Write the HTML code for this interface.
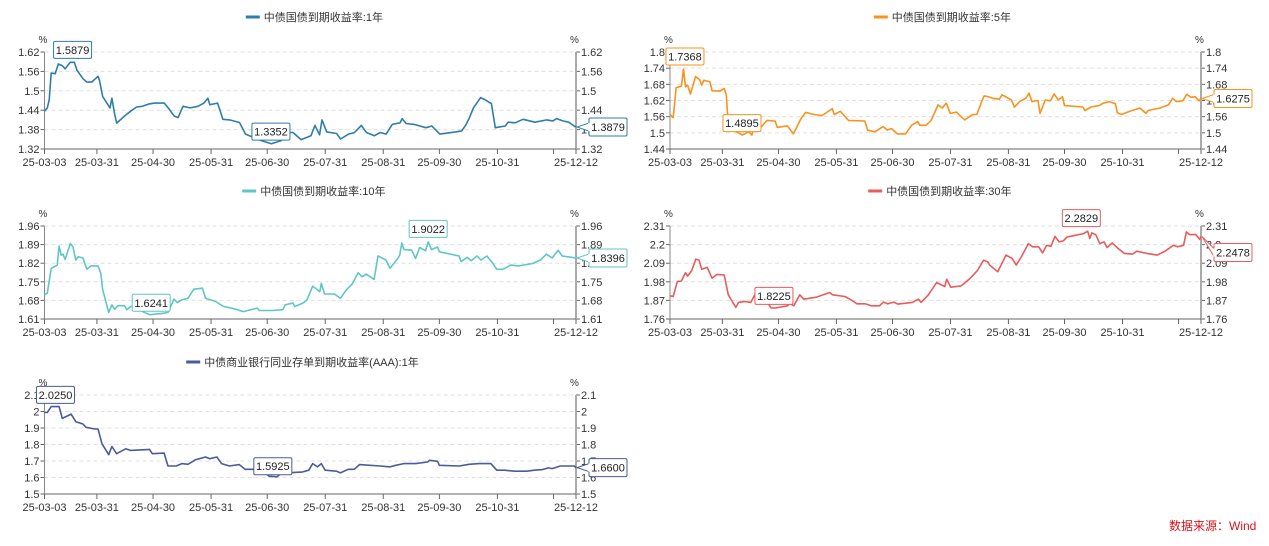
<!DOCTYPE html>
<html><head><meta charset="utf-8">
<style>
html,body{margin:0;padding:0;background:#fff;}
body{width:1269px;height:541px;overflow:hidden;position:relative;font-family:"Liberation Sans","Noto Sans CJK SC",sans-serif;}
svg text{font-family:"Liberation Sans","Noto Sans CJK SC",sans-serif;}
#src{position:absolute;left:1169px;top:517px;font-size:12px;color:#d9121b;}
</style></head>
<body>
<svg id="root" width="1269" height="541"></svg>
<div id="src">数据来源：Wind</div>
<script>
// ---- shared axis data ----
const xTickDays = [0,28,58,89,119,150,181,211,242,272,284];
const xTickLabels = ["25-03-03","25-03-31","25-04-30","25-05-31","25-06-30","25-07-31","25-08-31","25-09-30","25-10-31","","25-12-12"];

// ---- chart 1: 1Y ----
const c1Title = "中债国债到期收益率:1年";
const c1Ticks = [1.32,1.38,1.44,1.5,1.56,1.62];
const c1Days = [0,1.5,2.5,3.6,5.7,7.4,9.5,11,13.8,15.9,17.4,20.6,22.7,25.2,28.6,29.4,31.1,35,36,37.5,38.6,42.8,46,49.2,52.3,55.6,58.7,64,66.1,69.3,71.4,74,77.8,82,85.2,87.3,88.3,92.5,95.3,98.9,104.2,107.4,111.6,115.9,121.2,126.5,128.6,132.8,137.1,142.4,144.5,147,148.3,150.8,156.1,158.2,162.5,165.7,169.3,172,176.3,179.4,182.6,185.8,190,191.1,193.2,197.5,203.8,207,211.2,219.7,222.9,225,227.1,229.2,233,235.6,238.8,240.9,246.2,247.7,251.5,255.7,262.1,268.4,271.6,273.7,276.9,280.1,283,284];
const c1Vals = [1.437,1.447,1.472,1.555,1.553,1.583,1.578,1.568,1.588,1.588,1.563,1.537,1.527,1.527,1.545,1.532,1.482,1.447,1.477,1.427,1.4,1.422,1.437,1.45,1.452,1.459,1.462,1.462,1.447,1.422,1.417,1.452,1.447,1.452,1.462,1.477,1.457,1.462,1.412,1.41,1.402,1.366,1.356,1.346,1.336,1.346,1.371,1.371,1.349,1.361,1.393,1.364,1.41,1.373,1.368,1.351,1.366,1.371,1.393,1.371,1.361,1.371,1.366,1.396,1.401,1.414,1.399,1.396,1.386,1.391,1.366,1.373,1.376,1.393,1.417,1.447,1.479,1.472,1.46,1.386,1.391,1.403,1.401,1.412,1.403,1.41,1.407,1.414,1.407,1.403,1.391,1.3879];
const c1MarkDays = [15,121];
const c1MarkVals = [1.5879,1.3352];

// ---- chart 2: 5Y ----
const c2Title = "中债国债到期收益率:5年";
const c2Ticks = [1.44,1.5,1.56,1.62,1.68,1.74,1.8];
const c2Days = [0,1.7,3.3,6.1,7.2,8.3,9.4,10.9,13.7,15.9,17,18.1,21.4,22.5,26.8,29,30.1,31.2,34.4,38.8,42.1,43.8,45.3,48.6,51.9,56.2,57.4,62.8,66,70,72.6,77,81.3,86.8,87.9,91.1,95.5,104.2,105.7,109.6,114,116.2,118.4,121.6,126,129.2,132.5,133.6,136.9,139.7,143.4,145.6,147.8,149.9,153.2,157.6,161.9,164.1,166.7,168,170.2,172.8,176.1,177.6,182.6,184.2,187,190.3,192,193.6,196.8,197.9,200.7,203.4,205.5,207.7,209.9,211,220.8,221.9,225.2,229.5,231.7,235,238.2,239.3,241.5,245.9,251.3,254.6,255.7,262.2,266.6,268.8,270.9,274.2,276.4,278.6,280.8,283,284];
const c2Vals = [1.568,1.556,1.668,1.673,1.737,1.671,1.677,1.644,1.709,1.697,1.677,1.695,1.689,1.656,1.655,1.665,1.64,1.526,1.508,1.492,1.504,1.492,1.532,1.52,1.546,1.544,1.52,1.526,1.496,1.552,1.576,1.568,1.564,1.59,1.568,1.58,1.546,1.544,1.51,1.504,1.523,1.51,1.516,1.496,1.496,1.528,1.542,1.528,1.528,1.546,1.604,1.592,1.61,1.572,1.577,1.548,1.568,1.568,1.616,1.637,1.634,1.628,1.625,1.641,1.622,1.595,1.616,1.628,1.647,1.616,1.62,1.572,1.622,1.619,1.644,1.622,1.634,1.601,1.596,1.583,1.596,1.601,1.61,1.616,1.608,1.574,1.568,1.58,1.592,1.572,1.583,1.592,1.604,1.628,1.616,1.619,1.643,1.632,1.634,1.619,1.6275];
const c2MarkDays = [8,38.5];
const c2MarkVals = [1.7368,1.4895];

// ---- chart 3: 10Y ----
const c3Title = "中债国债到期收益率:10年";
const c3Ticks = [1.61,1.68,1.75,1.82,1.89,1.96];
const c3Days = [0,1.5,3.6,6.8,7.8,8.9,9.9,11,13.8,15.2,16.7,18,20.5,22.6,24.8,28.6,30.1,31.1,34.3,36,37.5,39.2,42.8,43.9,46,49.1,51.2,54.4,56.5,63.9,66,69.2,70.9,73.4,76.6,79.8,84.4,86.1,91.4,95.7,98.8,103.1,106.2,113.7,114.7,122.1,127.4,128.5,132.7,133.8,138,140.1,143.3,147.1,147.9,149.6,154.9,158.1,161.3,164.4,167.6,169.7,171.9,176.1,178.2,182.4,184.6,188.8,189.8,190.9,192,196.2,198.3,200.5,203.6,205.1,206.8,210,211,221.6,222.6,225.8,228,231.1,233.2,236.4,239.6,241.7,244.9,249.1,253.3,260.8,265,268.2,271.3,274.5,276.6,281.9,284];
const c3Vals = [1.701,1.707,1.8,1.813,1.884,1.85,1.854,1.834,1.894,1.882,1.832,1.844,1.84,1.797,1.81,1.81,1.782,1.72,1.635,1.663,1.647,1.66,1.66,1.645,1.657,1.66,1.642,1.632,1.626,1.632,1.635,1.685,1.672,1.682,1.688,1.722,1.726,1.688,1.676,1.657,1.653,1.645,1.638,1.651,1.642,1.642,1.645,1.663,1.67,1.657,1.67,1.68,1.734,1.713,1.744,1.704,1.704,1.688,1.72,1.742,1.784,1.769,1.779,1.759,1.847,1.832,1.801,1.838,1.85,1.896,1.872,1.869,1.838,1.879,1.867,1.9,1.871,1.881,1.863,1.847,1.826,1.842,1.829,1.847,1.832,1.847,1.819,1.797,1.797,1.813,1.81,1.819,1.832,1.854,1.84,1.869,1.847,1.842,1.8396];
const c3MarkDays = [57,205];
const c3MarkVals = [1.6241,1.9022];

// ---- chart 4: 30Y ----
const c4Title = "中债国债到期收益率:30年";
const c4Ticks = [1.76,1.87,1.98,2.09,2.2,2.31];
const c4Days = [0,1.7,3.9,6.1,8.3,9.4,11.6,13.8,15.5,17,19.9,22.5,25.1,29,31.2,35.2,36.7,40,43.2,45.4,48.7,54.1,56.3,62.9,64,66.2,69.4,71.6,74.9,78.2,85.4,86.9,93.5,96.7,100,104.4,107.6,112,114.2,116.4,119.7,121.9,129.5,132.8,134.3,138.2,142.6,147,148,150.2,155.7,160,164.4,167.7,169.9,171,175.3,179.7,183,185.2,188.4,191.7,193.9,197.2,199.3,201.5,203.7,205.9,208.1,210.3,212.4,216.8,221.2,223.4,224.5,225.6,227.7,229.9,232.1,233.8,236.5,239.7,243,247.4,249.6,255,260.5,264.8,269.2,271.4,274.7,276.2,277.9,281.2,283.4,284];
const c4Vals = [1.897,1.893,1.981,1.985,2.034,2.014,2.046,2.114,2.108,2.054,2.065,2.001,2.024,2.02,1.903,1.829,1.858,1.864,1.858,1.903,1.913,1.825,1.825,1.838,1.854,1.838,1.903,1.877,1.883,1.889,1.917,1.903,1.893,1.874,1.85,1.85,1.838,1.838,1.86,1.85,1.86,1.848,1.858,1.877,1.858,1.903,1.975,1.952,1.995,1.948,1.956,1.995,2.046,2.108,2.099,2.079,2.04,2.138,2.118,2.079,2.138,2.206,2.187,2.187,2.151,2.196,2.19,2.249,2.216,2.222,2.245,2.255,2.265,2.279,2.236,2.269,2.259,2.206,2.216,2.183,2.21,2.177,2.148,2.144,2.161,2.148,2.138,2.161,2.196,2.187,2.196,2.275,2.259,2.259,2.23,2.2478];
const c4MarkDays = [55.6,220];
const c4MarkVals = [1.8225,2.2829];

// ---- chart 5: NCD AAA 1Y ----
const c5Title = "中债商业银行同业存单到期收益率(AAA):1年";
const c5Ticks = [1.5,1.6,1.7,1.8,1.9,2,2.1];
const c5Days = [0,1.5,3.6,7.8,9.5,14.2,16.7,20.5,22.2,26.9,28.6,30.7,34.3,36,38.5,43.4,46,56.1,57.6,63.9,66,70.3,73.4,76.6,80.8,86.1,88.3,92.1,94.6,98.8,104.1,107.2,111.5,113.6,116.8,120,124.2,127.4,132.7,138,141.2,143.3,145.8,147.9,150,156,158.1,162.3,165.5,168.3,179.3,184.6,187.7,192,198.3,204.7,205.7,210,211,221.6,226.9,232.2,238.5,241.7,245.9,251.2,257.6,261.8,266,269.2,271.3,275.6,283,284];
const c5Vals = [1.994,1.994,2.03,2.03,1.958,1.984,1.938,1.924,1.904,1.894,1.894,1.804,1.738,1.788,1.744,1.774,1.764,1.77,1.744,1.748,1.67,1.67,1.684,1.68,1.708,1.724,1.714,1.724,1.684,1.67,1.678,1.65,1.65,1.664,1.638,1.608,1.604,1.634,1.63,1.634,1.644,1.684,1.664,1.684,1.644,1.638,1.628,1.65,1.65,1.678,1.67,1.664,1.674,1.684,1.684,1.694,1.704,1.698,1.674,1.67,1.68,1.684,1.684,1.644,1.644,1.638,1.638,1.644,1.648,1.658,1.654,1.67,1.67,1.66];
const c5MarkDays = [4,122];
const c5MarkVals = [2.025,1.5925];

const NS = "http://www.w3.org/2000/svg";
const root = document.getElementById("root");
function mk(tag, attrs, parent){
  const e = document.createElementNS(NS, tag);
  for (const k in attrs) e.setAttribute(k, attrs[k]);
  (parent||root).appendChild(e);
  return e;
}
function fmt(v){ return String(+v.toFixed(2)); }

function drawChart(cfg, title, ticks, days, vals, markDays, markVals){
  const g = mk("g", {});
  
  
  const lo = ticks[0], hi = ticks[ticks.length-1];
  const X = d => cfg.x0 + (d/284)*(cfg.x1-cfg.x0);
  const Y = v => cfg.yb - (v-lo)/(hi-lo)*(cfg.yb-cfg.yt);
  // legend
  const lg = mk("g", {}, g);
  
  
  const tw = title.length*11.2;
  const lx = cfg.lc - (tw+18)/2;
  mk("line",{x1:lx,y1:cfg.ly,x2:lx+14,y2:cfg.ly,stroke:cfg.color,"stroke-width":3},lg);
  const lt = mk("text",{x:lx+18,y:cfg.ly+4,"font-size":11,fill:"#333"},lg);
  lt.textContent = title;
  // grid + y ticks
  ticks.forEach((t,i)=>{
    const y = Y(t);
    if(i>0){
      const gl = mk("line",{x1:cfg.x0,y1:y,x2:cfg.x1,y2:y,stroke:"#e0e0e0","stroke-dasharray":"4,3"},g);
      
      
    }
    mk("line",{x1:cfg.x0-4,y1:y,x2:cfg.x0,y2:y,stroke:"#666"},g);
    mk("line",{x1:cfg.x1,y1:y,x2:cfg.x1+4,y2:y,stroke:"#666"},g);
    const tl = mk("text",{x:cfg.x0-5,y:y+4,"font-size":11,fill:"#333","text-anchor":"end"},g);
    tl.textContent = fmt(t);
    
    
    const tr = mk("text",{x:cfg.x1+5,y:y+4,"font-size":11,fill:"#333"},g);
    tr.textContent = fmt(t);
    
    
  });
  const pl = mk("text",{x:cfg.x0-6,y:cfg.yt-9,"font-size":10,fill:"#333"},g); pl.textContent="%";
  
  
  const pr = mk("text",{x:cfg.x1-6,y:cfg.yt-9,"font-size":10,fill:"#333"},g); pr.textContent="%";
  
  
  // axes
  const al = mk("line",{x1:cfg.x0,y1:cfg.yt,x2:cfg.x0,y2:cfg.yb,stroke:"#888"},g);
  
  
  const ar = mk("line",{x1:cfg.x1,y1:cfg.yt,x2:cfg.x1,y2:cfg.yb,stroke:"#aaa","stroke-width":2},g);
  
  
  const ax = mk("line",{x1:cfg.x0,y1:cfg.yb,x2:cfg.x1,y2:cfg.yb,stroke:"#666"},g);
  
  
  xTickDays.forEach((d,i)=>{
    const x = X(d);
    mk("line",{x1:x,y1:cfg.yb,x2:x,y2:cfg.yb+5,stroke:"#666"},g);
    if(xTickLabels[i]){
      const t = mk("text",{x:x,y:cfg.yb+17,"font-size":11,fill:"#333","text-anchor":"middle"},g);
      t.textContent = xTickLabels[i];
      
      
    }
  });
  // series
  const pts = days.map((d,i)=>X(d).toFixed(1)+","+Y(vals[i]).toFixed(1)).join(" ");
  const line = mk("polyline",{points:pts,fill:"none",stroke:cfg.color,"stroke-width":1.6,"stroke-linejoin":"round"},g);
  
  
  // max/min marks
  markDays.forEach((d,i)=>{
    const txt = markVals[i].toFixed(4);
    const w = 38, h = 17;
    let cx = X(d);
    if(cx - w/2 < cfg.x0 - 8) cx = cfg.x0 - 8 + w/2;
    const by = Y(markVals[i]) - 4;
    const bg = mk("g",{},g);
    
    
    mk("rect",{x:cx-w/2,y:by-h,width:w,height:h,fill:"#fff",stroke:cfg.color,rx:1.5},bg);
    const t = mk("text",{x:cx,y:by-4.5,"font-size":11,fill:"#222","text-anchor":"middle"},bg);
    t.textContent = txt;
  });
  // end label
  const lastV = vals[vals.length-1];
  const py = Y(lastV);
  const bx = cfg.x1 + 13, byc = py + cfg.endOff;
  const eg = mk("g",{},g);
  
  
  mk("polygon",{points:`${cfg.x1+1},${py} ${bx},${byc-4} ${bx},${byc+4}`,fill:"#fff",stroke:cfg.color},eg);
  mk("rect",{x:bx,y:byc-9,width:38,height:18,fill:"#fff",stroke:cfg.color,rx:1.5},eg);
  mk("line",{x1:bx,y1:byc-4,x2:bx,y2:byc+4,stroke:"#fff","stroke-width":1.5},eg);
  const et = mk("text",{x:bx+19,y:byc+4,"font-size":11,fill:"#222","text-anchor":"middle"},eg);
  et.textContent = lastV.toFixed(4);
}

drawChart({name:"chart-1y-treasury",x0:44.5,x1:576,yt:52,yb:149,color:"#2f7dab",lc:322,ly:17,endOff:0}, c1Title,c1Ticks,c1Days,c1Vals,c1MarkDays,c1MarkVals);
drawChart({name:"chart-5y-treasury",x0:670,x1:1201,yt:52,yb:149,color:"#f7931e",lc:950,ly:17,endOff:0}, c2Title,c2Ticks,c2Days,c2Vals,c2MarkDays,c2MarkVals);
drawChart({name:"chart-10y-treasury",x0:44.5,x1:576,yt:226,yb:319,color:"#5fc6c6",lc:324,ly:191,endOff:0}, c3Title,c3Ticks,c3Days,c3Vals,c3MarkDays,c3MarkVals);
drawChart({name:"chart-30y-treasury",x0:670,x1:1201,yt:226,yb:319,color:"#e85c5c",lc:950,ly:191,endOff:16}, c4Title,c4Ticks,c4Days,c4Vals,c4MarkDays,c4MarkVals);
drawChart({name:"chart-ncd-aaa-1y",x0:44.5,x1:576,yt:395,yb:494,color:"#4b5b9b",lc:324,ly:362,endOff:0}, c5Title,c5Ticks,c5Days,c5Vals,c5MarkDays,c5MarkVals);
</script>
</body></html>
